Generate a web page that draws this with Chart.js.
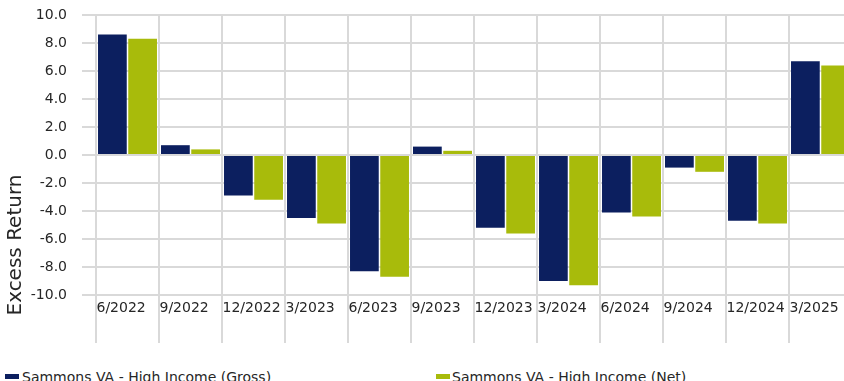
<!DOCTYPE html>
<html lang="en">
<head>
    <meta charset="UTF-8">
    <title>Excess Return</title>
    <script src="https://cdn.jsdelivr.net/npm/chart.js"></script>
    <style>
        html, body {
            margin: 0;
            padding: 0;
            width: 844px;
            height: 381px;
            overflow: hidden;
            background: #fff;
            font-family: "DejaVu Sans", Verdana, sans-serif;
        }
        #wrap {
            position: relative;
            width: 852px;
            height: 360px;
        }
        .legend {
            position: absolute;
            top: 369px;
            left: 0;
            width: 844px;
            font-size: 14px;
            line-height: 16px;
            color: #262626;
            white-space: nowrap;
        }
        .legend span.item { position: absolute; top: 0; }
        .legend i {
            position: absolute;
            top: 5px;
            width: 14px;
            height: 5px;
        }
        .legend b { position: absolute; font-weight: normal; }
    </style>
</head>
<body>
    <div id="wrap">
        <canvas id="myChart"></canvas>
    </div>
    <div class="legend" id="legend"></div>
    <script>
        const quarters = ['6/2022', '9/2022', '12/2022', '3/2023', '6/2023', '9/2023',
                          '12/2023', '3/2024', '6/2024', '9/2024', '12/2024', '3/2025'];
        const grossReturn = [8.6, 0.7, -2.9, -4.5, -8.3, 0.6, -5.2, -9.0, -4.1, -0.9, -4.7, 6.7];
        const netReturn = [8.3, 0.4, -3.2, -4.9, -8.7, 0.3, -5.6, -9.3, -4.4, -1.2, -4.9, 6.4];
        const seriesNames = ['Sammons VA - High Income (Gross)', 'Sammons VA - High Income (Net)'];
        const yTitle = 'Excess Return';

        const NAVY = '#0c1f5f';
        const LIME = '#a8bb0b';
        const GRID = '#d9d9d9';
        const TEXT = '#262626';
        const FONT = '"DejaVu Sans", Verdana, sans-serif';

        // y axis title sits lower than the plot middle, so it is drawn by hand
        const axisTitle = {
            id: 'axisTitle',
            afterDraw(chart) {
                const ctx = chart.ctx;
                ctx.save();
                ctx.translate(16, 245);
                ctx.rotate(-Math.PI / 2);
                ctx.font = '20px ' + FONT;
                ctx.fillStyle = TEXT;
                ctx.textAlign = 'center';
                ctx.textBaseline = 'middle';
                ctx.fillText(yTitle, 0, 0);
                ctx.restore();
            }
        };

        const config = {
            type: 'bar',
            data: {
                labels: quarters,
                datasets: [
                    { label: seriesNames[0], data: grossReturn, backgroundColor: NAVY },
                    { label: seriesNames[1], data: netReturn, backgroundColor: LIME }
                ]
            },
            options: {
                responsive: false,
                animation: false,
                maintainAspectRatio: false,
                layout: { padding: { top: 15, right: 0, left: 0, bottom: 0 } },
                datasets: {
                    bar: { categoryPercentage: 0.96, barPercentage: 0.95 }
                },
                plugins: {
                    legend: { display: false },
                    tooltip: { enabled: false }
                },
                scales: {
                    x: {
                        grid: { color: GRID, lineWidth: 2, tickLength: 48, offset: true },
                        border: { color: GRID, width: 2 },
                        ticks: {
                            color: TEXT,
                            font: { family: FONT, size: 14 },
                            align: 'start',
                            labelOffset: -31,
                            padding: -43,
                            autoSkip: false,
                            maxRotation: 0
                        },
                        afterFit: (axis) => { axis.height = 65; }
                    },
                    y: {
                        min: -10,
                        max: 10,
                        grid: { color: GRID, lineWidth: 2, tickLength: 14 },
                        border: { color: GRID, width: 2 },
                        ticks: {
                            stepSize: 2,
                            color: TEXT,
                            font: { family: FONT, size: 14 },
                            padding: 15,
                            callback: (v) => v.toFixed(1)
                        },
                        afterFit: (axis) => {
                            axis.width = 96;
                            axis.paddingTop = 0;
                            axis.paddingBottom = 0;
                        }
                    }
                }
            },
            plugins: [axisTitle]
        };

        const canvas = document.getElementById('myChart');
        canvas.width = 852;
        canvas.height = 360;
        const myChart = new Chart(canvas, config);

        // legend laid out in two fixed columns under the chart
        const legendSpots = [{ box: 5, text: 22 }, { box: 436, text: 452 }];
        const legend = document.getElementById('legend');
        myChart.data.datasets.forEach((ds, i) => {
            const item = document.createElement('span');
            item.className = 'item';
            item.innerHTML = '<i style="left:' + legendSpots[i].box + 'px;background:' + ds.backgroundColor + '"></i>' +
                             '<b style="left:' + legendSpots[i].text + 'px">' + ds.label + '</b>';
            legend.appendChild(item);
        });
    </script>
</body>
</html>
